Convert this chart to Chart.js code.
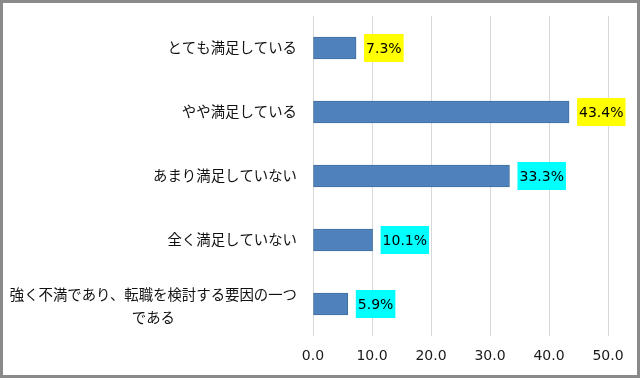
<!DOCTYPE html>
<html>
<head>
<meta charset="utf-8">
<script src="https://cdn.jsdelivr.net/npm/chart.js@4/dist/chart.umd.min.js"></script>
<style>
html,body{margin:0;padding:0;background:#fff;}
canvas{display:block;}
</style>
</head>
<body>
<canvas id="c" width="640" height="378"></canvas>
<script>
const categories = [
  'とても満足している',
  'やや満足している',
  'あまり満足していない',
  '全く満足していない',
  ['強く不満であり、転職を検討する要因の一つ', 'である']
];
const values = [7.3, 43.4, 33.3, 10.1, 5.9];
const labelBackgrounds = ['#ffff00', '#ffff00', '#00ffff', '#00ffff', '#00ffff'];
const xTicks = [0, 10, 20, 30, 40, 50];

const JP_FONT = '"Noto Sans CJK JP", "Noto Sans", sans-serif';
const NUM_FONT = '"DejaVu Sans", Verdana, sans-serif';

const framePlugin = {
  id: 'frame',
  beforeDraw(chart) {
    const ctx = chart.ctx;
    ctx.save();
    ctx.fillStyle = '#ffffff';
    ctx.fillRect(0, 0, chart.width, chart.height);
    ctx.restore();
  },
  afterDraw(chart) {
    const ctx = chart.ctx;
    ctx.save();
    ctx.strokeStyle = '#8a8a8a';
    ctx.lineWidth = 3;
    ctx.strokeRect(1.5, 1.5, chart.width - 3, chart.height - 3);
    ctx.restore();
  }
};

const categoryLabelPlugin = {
  id: 'categoryLabels',
  afterDraw(chart) {
    const ctx = chart.ctx;
    const yScale = chart.scales.y;
    const right = chart.chartArea.left - 16;
    ctx.save();
    ctx.font = '14.4px ' + JP_FONT;
    ctx.fillStyle = '#111111';
    ctx.textBaseline = 'middle';
    categories.forEach((lab, i) => {
      const y = yScale.getPixelForValue(i);
      if (Array.isArray(lab)) {
        const widths = lab.map(t => ctx.measureText(t).width);
        const maxW = Math.max(...widths);
        const cx = right - maxW / 2;
        const lh = 23;
        const startY = y + 2 - (lab.length - 1) * lh / 2;
        ctx.textAlign = 'center';
        lab.forEach((t, k) => ctx.fillText(t, cx, startY + k * lh));
      } else {
        ctx.textAlign = 'right';
        ctx.fillText(lab, right, y);
      }
    });
    ctx.restore();
  }
};

const valueLabelPlugin = {
  id: 'valueLabels',
  afterDatasetsDraw(chart) {
    const ctx = chart.ctx;
    const meta = chart.getDatasetMeta(0);
    ctx.save();
    ctx.font = '14px ' + NUM_FONT;
    ctx.textBaseline = 'middle';
    ctx.textAlign = 'left';
    meta.data.forEach((bar, i) => {
      const txt = values[i].toFixed(1) + '%';
      const w = ctx.measureText(txt).width;
      const x0 = bar.x + 8;
      const h = 28;
      ctx.fillStyle = labelBackgrounds[i];
      ctx.fillRect(x0, bar.y - h / 2, w + 4, h);
      ctx.fillStyle = '#000000';
      ctx.fillText(txt, x0 + 2, bar.y + 1);
    });
    ctx.restore();
  }
};

new Chart(document.getElementById('c'), {
  type: 'bar',
  data: {
    labels: categories,
    datasets: [{
      data: values,
      backgroundColor: '#4f81bd',
      borderColor: '#41719c',
      borderWidth: 1,
      borderSkipped: false,
      barThickness: 22
    }]
  },
  options: {
    indexAxis: 'y',
    responsive: false,
    animation: false,
    devicePixelRatio: 1,
    layout: { padding: { left: 313, right: 32, top: 16, bottom: 0 } },
    plugins: { legend: { display: false }, tooltip: { enabled: false } },
    scales: {
      x: {
        min: 0,
        max: 50,
        afterBuildTicks(scale) { scale.ticks = xTicks.map(v => ({ value: v })); },
        afterFit(scale) { scale.height = 42; },
        grid: { color: '#d9d9d9', lineWidth: 1, drawTicks: false },
        border: { display: false },
        ticks: {
          padding: 12,
          color: '#1a1a1a',
          font: { family: NUM_FONT, size: 14 },
          callback: v => Number(v).toFixed(1)
        }
      },
      y: {
        display: false
      }
    }
  },
  plugins: [framePlugin, categoryLabelPlugin, valueLabelPlugin]
});
</script>
</body>
</html>
